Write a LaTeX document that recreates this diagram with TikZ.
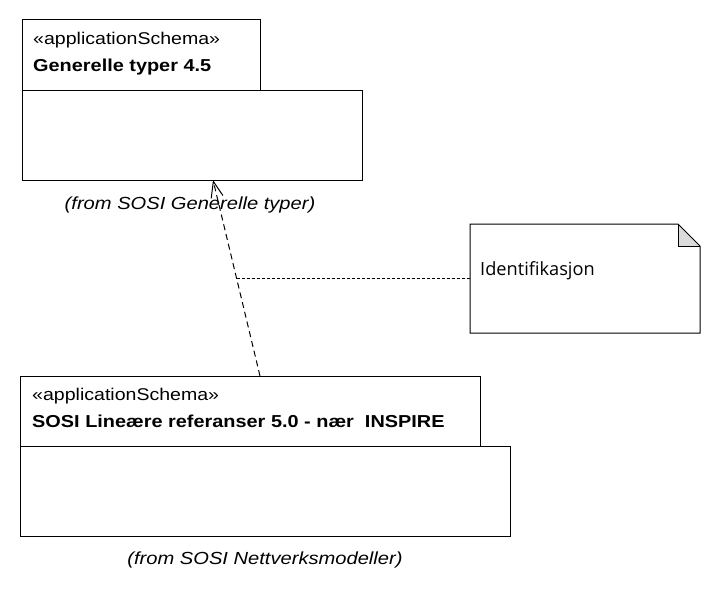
\documentclass[tikz,border=0pt]{standalone}
\usepackage{fontspec}
\usetikzlibrary{arrows.meta,calc}
\newfontfamily\umlfont[FakeStretch=1.15]{Liberation Sans}
\newfontfamily\notefont{Open Sans}
\tikzset{
  box/.style={draw, line width=1pt, inner sep=0pt, outer sep=0pt, anchor=north west},
  lbl/.style={anchor=base west, inner sep=0pt, font=\umlfont\fontsize{17}{20}\selectfont},
  lblb/.style={anchor=base west, inner sep=0pt, font=\umlfont\bfseries\fontsize{17.3}{20}\selectfont},
  from/.style={anchor=base, inner sep=0pt, font=\umlfont\itshape\fontsize{17.5}{20}\selectfont},
  dep/.style={line width=1pt, dash pattern=on 6pt off 4pt, -{Straight Barb[length=16pt,width=12pt,line width=1pt]}},
  notelink/.style={line width=1pt, dash pattern=on 3pt off 2pt},
}
\begin{document}
\begin{tikzpicture}[x=1pt,y=-1pt]
\useasboundingbox (0,0) rectangle (720,594);
% top package
\node[box, minimum width=238pt, minimum height=70pt] (t1tab) at (22,20) {};
\node[box, minimum width=340pt, minimum height=90pt] (t1body) at (22,90) {};
\node[lbl] (t1st) at (33,45) {«applicationSchema»};
\node[lblb] (t1name) at (33,71) {Generelle typer 4.5};
\node[from] (t1from) at (190,209) {(from SOSI Generelle typer)};
% bottom package
\node[box, minimum width=460pt, minimum height=70pt] (b1tab) at (20,376) {};
\node[box, minimum width=490pt, minimum height=90pt] (b1body) at (20,446) {};
\node[lbl] (b1st) at (32,400) {«applicationSchema»};
\node[lblb] (b1name) at (32,427) {SOSI Lineære referanser 5.0 - nær\ \ INSPIRE};
\node[from] (b1from) at (265,564) {(from SOSI Nettverksmodeller)};
% note
\node[inner sep=0pt, outer sep=0pt, minimum width=230pt, minimum height=109pt, anchor=north west] (note) at (470,224) {};
\fill[gray!28] ($(note.north east)+(-22,0)$) -- ($(note.north east)+(-22,22)$) -- ($(note.north east)+(0,22)$) -- cycle;
\draw[line width=1pt] (note.north west) -- ($(note.north east)+(-22,0)$) -- ($(note.north east)+(0,22)$) -- (note.south east) -- (note.south west) -- cycle;
\draw[line width=1pt] ($(note.north east)+(-22,0)$) -- ($(note.north east)+(-22,22)$) -- ($(note.north east)+(0,22)$);
\node[anchor=base west, inner sep=0pt, font=\notefont\fontsize{18.2}{21}\selectfont] (notetxt) at (480,275) {Identifikasjon};
% dependency
\coordinate (depsrc) at ($(b1tab.north west)+(240,0)$);
\coordinate (deptgt) at ($(t1body.south west)+(191,0)$);
\draw[dep] (depsrc) -- (deptgt);
\coordinate (linkend) at ($(depsrc)!0.5!(deptgt)$);
\draw[notelink] (linkend |- 0,278) -- (note.west |- 0,278);
\end{tikzpicture}
\end{document}
